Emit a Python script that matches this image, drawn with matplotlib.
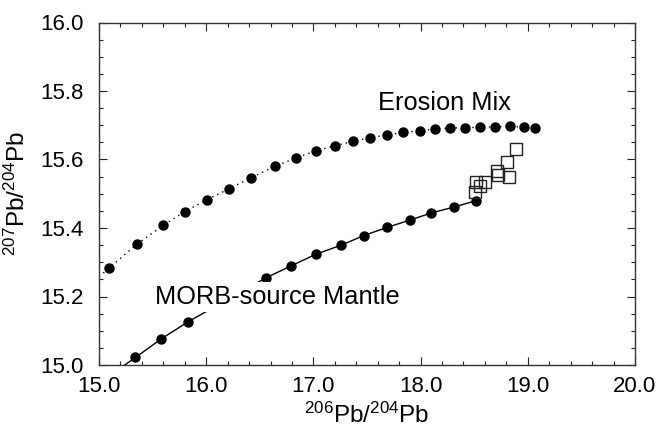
import matplotlib
matplotlib.use("Agg")
import matplotlib.pyplot as plt
from matplotlib.ticker import MultipleLocator, FormatStrFormatter

plt.rcParams['font.family'] = ['Liberation Sans', 'DejaVu Sans']
plt.rcParams['mathtext.fontset'] = 'custom'
plt.rcParams['mathtext.rm'] = 'Liberation Sans'
plt.rcParams['mathtext.it'] = 'Liberation Sans:italic'
plt.rcParams['mathtext.default'] = 'regular'

# Erosion Mix model points
erosion_x = [15.09, 15.35, 15.60, 15.80, 16.01, 16.21, 16.42, 16.64, 16.84, 17.02,
             17.20, 17.37, 17.53, 17.69, 17.84, 17.99, 18.13, 18.27, 18.41, 18.55,
             18.69, 18.83, 18.96, 19.07]
erosion_y = [15.282, 15.352, 15.408, 15.448, 15.483, 15.514, 15.547, 15.580, 15.605, 15.625,
             15.640, 15.653, 15.664, 15.672, 15.679, 15.684, 15.689, 15.692, 15.693, 15.694,
             15.695, 15.697, 15.694, 15.692]
# Erosion Mix curve (starts at left axis edge)
erosion_curve_x = [15.0] + erosion_x
erosion_curve_y = [15.258] + erosion_y

# MORB-source mantle model points
morb_x = [15.34, 15.58, 15.83, 16.56, 16.79, 17.02, 17.26, 17.47, 17.69, 17.90,
          18.10, 18.31, 18.52]
morb_y = [15.022, 15.076, 15.126, 15.255, 15.289, 15.323, 15.350, 15.378, 15.402, 15.423,
          15.444, 15.461, 15.480]
morb_curve_x = [15.24] + morb_x
morb_curve_y = [15.0] + morb_y

# Samples (open squares)
sample_x = [18.89, 18.81, 18.82, 18.72, 18.71, 18.52, 18.55, 18.51, 18.60]
sample_y = [15.631, 15.592, 15.550, 15.555, 15.566, 15.535, 15.523, 15.506, 15.535]

fig = plt.figure(figsize=(6.61, 4.33), dpi=100)
ax = fig.add_axes([99/661, 1-365/433, 536/661, 342.5/433])

ax.plot(erosion_curve_x, erosion_curve_y, color='black', lw=1.0,
        linestyle=(0, (1, 3)), zorder=2)
ax.plot(erosion_x, erosion_y, 'o', color='black', ms=6.5, zorder=3)

ax.plot(morb_curve_x, morb_curve_y, color='black', lw=1.0, zorder=2)
ax.plot(morb_x, morb_y, 'o', color='black', ms=6.5, zorder=3)

ax.plot(sample_x, sample_y, 's', mfc='none', mec='#222222', mew=1.0, ms=8.8, zorder=4)

ax.text(17.603, 15.745, 'Erosion Mix', fontsize=18.3, va='baseline', ha='left', zorder=5)
ax.text(15.522, 15.178, 'MORB-source Mantle', fontsize=18.3, va='baseline', ha='left',
        zorder=5, bbox=dict(facecolor='white', edgecolor='none', pad=2))

ax.set_xlim(15.0, 20.0)
ax.set_ylim(15.0, 16.0)
ax.xaxis.set_major_locator(MultipleLocator(1.0))
ax.xaxis.set_minor_locator(MultipleLocator(0.2))
ax.yaxis.set_major_locator(MultipleLocator(0.2))
ax.yaxis.set_minor_locator(MultipleLocator(0.05))
ax.xaxis.set_major_formatter(FormatStrFormatter('%.1f'))
ax.yaxis.set_major_formatter(FormatStrFormatter('%.1f'))

ax.tick_params(which='both', direction='in', top=True, right=True, width=0.8, color='#222222')
ax.tick_params(which='major', length=6, labelsize=16)
ax.tick_params(which='minor', length=3)
ax.tick_params(axis='x', which='major', pad=8)
ax.tick_params(axis='y', which='major', pad=11)

for s in ax.spines.values():
    s.set_linewidth(1.0)
    s.set_color('#333333')

ax.set_xlabel(r'$^{206}$Pb/$^{204}$Pb', fontsize=17.5)
ax.set_ylabel(r'$^{207}$Pb/$^{204}$Pb', fontsize=17.5)
ax.xaxis.set_label_coords(0.5, -0.11)
ax.yaxis.set_label_coords(-0.128, 0.5)

fig.savefig('out.png', dpi=100)
